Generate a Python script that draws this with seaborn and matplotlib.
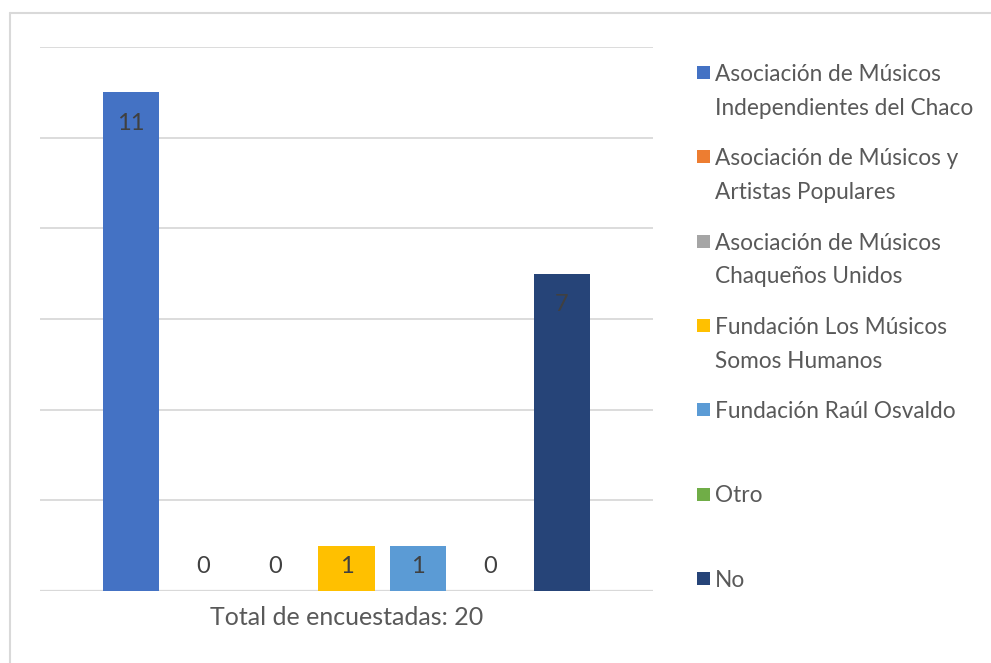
import matplotlib
matplotlib.use("Agg")
import matplotlib.pyplot as plt
import pandas as pd
import seaborn as sns
from matplotlib.lines import Line2D
from matplotlib.patches import Rectangle

categoria = ["Total de encuestadas: 20"]
series = [
    "Asociación de Músicos\nIndependientes del Chaco",
    "Asociación de Músicos y\nArtistas Populares",
    "Asociación de Músicos\nChaqueños Unidos",
    "Fundación Los Músicos\nSomos Humanos",
    "Fundación Raúl Osvaldo",
    "Otro",
    "No",
]
valores = [11, 0, 0, 1, 1, 0, 7]
colores = ["#4472C4", "#ED7D31", "#A5A5A5", "#FFC000", "#5B9BD5", "#70AD47", "#264478"]
yticks = [0, 2, 4, 6, 8, 10, 12]

sns.set_style("white")
plt.rcParams["font.family"] = ["Lato", "DejaVu Sans"]

df = pd.DataFrame({"grupo": categoria * len(series), "serie": series, "valor": valores})

fig = plt.figure(figsize=(9.91, 6.63), dpi=100)
ax = fig.add_axes([40 / 991, 1 - 591 / 663, 613 / 991, 544 / 663])

sns.barplot(
    data=df, x="grupo", y="valor", hue="serie", hue_order=series,
    palette=colores, saturation=1, width=0.82, gap=0.22, linewidth=0,
    legend=False, ax=ax,
)

ax.set_ylim(0, 12)
ax.set_xlim(-0.5, 0.5)
ax.set_yticks(yticks)
ax.set_yticklabels([])
ax.tick_params(axis="both", length=0)
ax.tick_params(axis="x", labelsize=18, labelcolor="#595959", pad=11)
ax.set_xlabel("")
ax.set_ylabel("")
for s in ax.spines.values():
    s.set_visible(False)
ax.yaxis.grid(True, color="#D9D9D9", linewidth=1.3)
ax.set_axisbelow(True)
ax.axhline(0, color="#D9D9D9", linewidth=1.6, zorder=0.5)

# etiquetas de datos ("extremo interno")
for p, v in zip(ax.patches, valores):
    cx = p.get_x() + p.get_width() / 2
    cy = max(v - 0.68, 0.55)
    ax.text(cx, cy, str(v), ha="center", va="center", fontsize=17, color="#404040")

# leyenda a la derecha, al estilo Excel
slot0 = 72
paso = 84.3
for i, (nombre, c) in enumerate(zip(series, colores)):
    yc = slot0 + i * paso
    fig.patches.append(Rectangle((697 / 991, 1 - (yc + 7) / 663), 13 / 991, 13 / 663,
                                 transform=fig.transFigure, facecolor=c, edgecolor="none"))
    fig.text(715 / 991, 1 - (yc - 8) / 663, nombre, ha="left", va="top",
             fontsize=16.3, color="#595959", linespacing=1.75)

# marco del área del gráfico
fig.lines.append(Line2D([10 / 991, 10 / 991], [0, 1 - 13 / 663], transform=fig.transFigure,
                        color="#D9D9D9", linewidth=1.5))
fig.lines.append(Line2D([10 / 991, 1], [1 - 13 / 663, 1 - 13 / 663], transform=fig.transFigure,
                        color="#D9D9D9", linewidth=1.5))

fig.savefig("out.png", dpi=100)
